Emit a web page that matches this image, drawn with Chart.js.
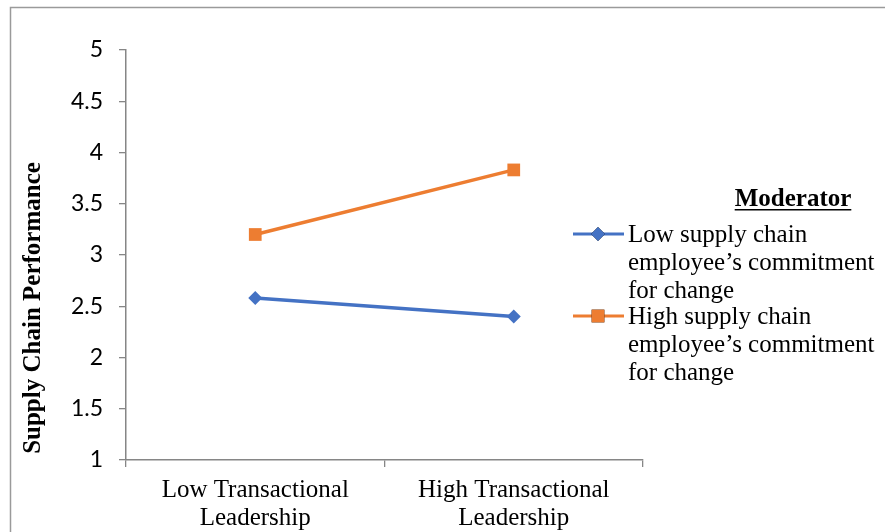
<!DOCTYPE html>
<html>
<head>
<meta charset="utf-8">
<style>
  html, body { margin: 0; padding: 0; background: #ffffff; }
  #wrap { width: 885px; height: 532px; position: relative; }
</style>
<script src="https://cdn.jsdelivr.net/npm/chart.js@4.4.1/dist/chart.umd.min.js"></script>
</head>
<body>
<div id="wrap"><canvas id="c" width="885" height="532"></canvas></div>
<script>
// ---- data ----
const categories = [["Low Transactional", "Leadership"], ["High Transactional", "Leadership"]];
const lowCommitment = [2.58, 2.40];
const highCommitment = [3.20, 3.83];
const seriesLabels = [
  ["Low supply chain", "employee\u2019s commitment", "for change"],
  ["High supply chain", "employee\u2019s commitment", "for change"]
];
const legendTitle = "Moderator";
const yAxisTitle = "Supply Chain Performance";
const yMin = 1, yMax = 5, yStep = 0.5;

const AXIS = '#868686';
const SERIF = '"Liberation Serif", "Times New Roman", serif';
const SANS = 'Lato, "Open Sans", sans-serif';

const decorPlugin = {
  id: 'decor',
  afterDraw(chart) {
    const ctx = chart.ctx;
    ctx.save();
    // outer frame (top + left)
    ctx.strokeStyle = '#9a9a9a';
    ctx.lineWidth = 1.5;
    ctx.beginPath();
    ctx.moveTo(885, 7.5);
    ctx.lineTo(10.5, 7.5);
    ctx.lineTo(10.5, 532);
    ctx.stroke();

    // y axis title
    ctx.fillStyle = '#000';
    ctx.font = 'bold 25px ' + SERIF;
    ctx.textAlign = 'center';
    ctx.textBaseline = 'middle';
    ctx.translate(34, 308);
    ctx.rotate(-Math.PI / 2);
    ctx.fillText(yAxisTitle, 0, 0);
    ctx.setTransform(1, 0, 0, 1, 0, 0);

    // legend
    ctx.font = 'bold 25px ' + SERIF;
    ctx.textAlign = 'center';
    ctx.textBaseline = 'alphabetic';
    const tx = 793, ty = 206;
    ctx.fillText(legendTitle, tx, ty);
    const tw = ctx.measureText(legendTitle).width;
    ctx.fillRect(tx - tw / 2, ty + 3, tw, 1.5);

    ctx.font = '25px ' + SERIF;
    ctx.textAlign = 'left';
    ctx.textBaseline = 'middle';
    const startY = [234, 316];
    const lineH = 28;
    chart.data.datasets.forEach((ds, i) => {
      const y0 = startY[i];
      ctx.strokeStyle = ds.borderColor;
      ctx.lineWidth = 3;
      ctx.beginPath();
      ctx.moveTo(573, y0);
      ctx.lineTo(624, y0);
      ctx.stroke();
      Chart.helpers.drawPoint(ctx, {
        pointStyle: ds.pointStyle, radius: ds.pointRadius, rotation: 0, borderWidth: 0
      }, 598, y0);
      ctx.fillStyle = ds.backgroundColor;
      ctx.fill();
      ctx.fillStyle = '#000';
      const lines = seriesLabels[i];
      lines.forEach((t, k) => ctx.fillText(t, 628, y0 + 1 + k * lineH));
    });
    ctx.restore();
  }
};

new Chart(document.getElementById('c'), {
  type: 'line',
  data: {
    labels: categories,
    datasets: [
      {
        label: seriesLabels[0].join(' '),
        data: lowCommitment,
        borderColor: '#4472C4',
        backgroundColor: '#4472C4',
        borderWidth: 3.5,
        pointStyle: 'rectRot',
        pointRadius: 7,
        pointHoverRadius: 7,
        pointBorderWidth: 0,
        tension: 0
      },
      {
        label: seriesLabels[1].join(' '),
        data: highCommitment,
        borderColor: '#ED7D31',
        backgroundColor: '#ED7D31',
        borderWidth: 3.5,
        pointStyle: 'rect',
        pointRadius: 9,
        pointHoverRadius: 9,
        pointBorderWidth: 0,
        tension: 0
      }
    ]
  },
  options: {
    responsive: false,
    animation: false,
    devicePixelRatio: 1,
    layout: { padding: { left: 0, top: 50, right: 242, bottom: 0 } },
    plugins: {
      legend: { display: false },
      tooltip: { enabled: false },
      title: { display: false }
    },
    scales: {
      x: {
        type: 'category',
        offset: true,
        afterFit(scale) { scale.height = 72; },
        grid: {
          display: true, drawOnChartArea: false, drawTicks: true,
          tickLength: 7, color: AXIS, lineWidth: 1.3, offset: true
        },
        border: { display: true, color: AXIS, width: 1.5 },
        ticks: {
          color: '#000', padding: 9,
          font: { family: SERIF, size: 25, lineHeight: 1.12 },
          maxRotation: 0, autoSkip: false
        }
      },
      y: {
        type: 'linear',
        min: yMin, max: yMax,
        afterFit(scale) { scale.width = 126; },
        grid: {
          display: true, drawOnChartArea: false, drawTicks: true,
          tickLength: 7, color: AXIS, lineWidth: 1.3
        },
        border: { display: true, color: AXIS, width: 1.5 },
        ticks: {
          stepSize: yStep, color: '#000', padding: 16,
          font: { family: SANS, size: 23 },
          callback: v => String(v)
        }
      }
    }
  },
  plugins: [decorPlugin]
});
</script>
</body>
</html>
